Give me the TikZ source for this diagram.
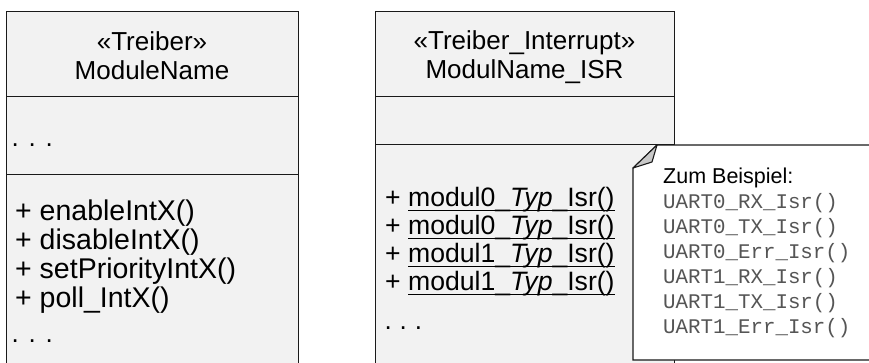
\documentclass[tikz,border=0pt]{standalone}
\usepackage{fontspec}
\setmainfont{Liberation Sans}
\setmonofont{Liberation Mono}
\newcommand{\myul}[1]{\leavevmode\setbox0\hbox{#1}\rlap{\rule[-5.2pt]{\wd0}{1.3pt}}\box0}
\definecolor{boxfill}{HTML}{F2F2F2}
\definecolor{boxline}{HTML}{1A1A1A}
\definecolor{foldfill}{HTML}{C8C8C8}
\definecolor{codegray}{HTML}{555555}
\begin{document}
\begin{tikzpicture}[x=1pt,y=-1pt,
  compart/.style={draw=boxline,fill=boxfill,line width=1.1pt,rectangle,inner sep=0pt,anchor=north west},
  big/.style={font=\fontsize{26}{29}\selectfont,inner sep=0pt,text=black},
  lmeth/.style={font=\fontsize{28.5}{29}\selectfont,inner sep=0pt,text=black,anchor=base west},
  rmeth/.style={font=\fontsize{26.6}{29}\selectfont,inner sep=0pt,text=black,anchor=base west},
  notetext/.style={font=\fontsize{21.5}{25}\selectfont,inner sep=0pt,anchor=base west,text=black},
  code/.style={font=\ttfamily\fontsize{20.8}{25}\selectfont,inner sep=0pt,anchor=base west,text=codegray}]
\useasboundingbox (0,0) rectangle (869,362);
\clip (0,0) rectangle (869,362);
% left class
\node[compart,minimum width=292pt,minimum height=85pt] (lhead) at (6,11) {};
\node[compart,minimum width=292pt,minimum height=78pt] (lattr) at (6,96) {};
\node[compart,minimum width=292pt,minimum height=200pt] (lops) at (6,174) {};
\node[big,anchor=base] (lst) at (152,50) {«Treiber»};
\node[big,anchor=base] (lname) at (152,79) {ModuleName};
\node[big,anchor=base west] (ladots) at (11.4,146) {.\hspace{9.8pt}.\hspace{9.8pt}.};
\node[lmeth] (lm1) at (15,220) {+ enableIntX()};
\node[lmeth] (lm2) at (15,249.3) {+ disableIntX()};
\node[lmeth] (lm3) at (15,278.3) {+ setPriorityIntX()};
\node[lmeth] (lm4) at (15,307) {+ poll\_IntX()};
\node[big,anchor=base west] (lm5) at (11.4,342) {.\hspace{9.8pt}.\hspace{9.8pt}.};
% right class
\node[compart,minimum width=299pt,minimum height=85pt] (rhead) at (375,11) {};
\node[compart,minimum width=299pt,minimum height=48pt] (rattr) at (375,96) {};
\node[compart,minimum width=299pt,minimum height=230pt] (rops) at (375,144) {};
\node[big,anchor=base] (rst) at (524.5,49) {«Treiber\_Interrupt»};
\node[big,anchor=base] (rname) at (524.5,78) {ModulName\_ISR};
\node[rmeth] (rm1) at (385,206) {+ \myul{modul0\_\textit{Typ}\_Isr()}};
\node[rmeth] (rm2) at (385,234) {+ \myul{modul0\_\textit{Typ}\_Isr()}};
\node[rmeth] (rm3) at (385,262) {+ \myul{modul1\_\textit{Typ}\_Isr()}};
\node[rmeth] (rm4) at (385,290) {+ \myul{modul1\_\textit{Typ}\_Isr()}};
\node[big,anchor=base west] (rm5) at (384.5,329) {.\hspace{7.8pt}.\hspace{7.8pt}.};
% note
\coordinate (n1) at (657,145);
\coordinate (n2) at (880,145);
\coordinate (n3) at (880,360);
\coordinate (n4) at (633,360);
\coordinate (n5) at (633,168);
\coordinate (nf) at (652,162);
\draw[draw=boxline,fill=white,line width=1.1pt] (n1) -- (n2) -- (n3) -- (n4) -- (n5) -- cycle;
\draw[draw=boxline,fill=foldfill,line width=1.1pt,line join=round] (n1) -- (nf) -- (n5) -- cycle;
\node[notetext] (nt0) at (663,183) {Zum Beispiel:};
\node[code] (nt1) at (663,208) {UART0\_RX\_Isr()};
\node[code] (nt2) at (663,233) {UART0\_TX\_Isr()};
\node[code] (nt3) at (663,258) {UART0\_Err\_Isr()};
\node[code] (nt4) at (663,283) {UART1\_RX\_Isr()};
\node[code] (nt5) at (663,308) {UART1\_TX\_Isr()};
\node[code] (nt6) at (663,333) {UART1\_Err\_Isr()};
\end{tikzpicture}
\end{document}
